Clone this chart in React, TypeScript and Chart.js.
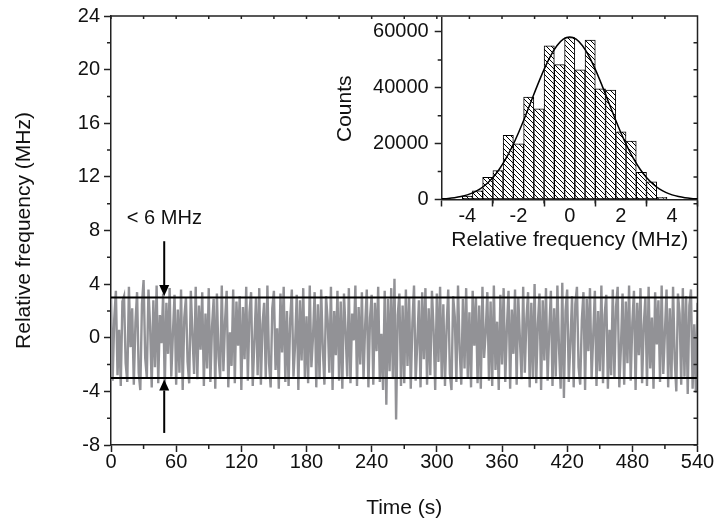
import React, { useEffect, useRef } from 'react';
import { Chart, registerables } from 'chart.js';

Chart.register(...registerables);

const FONT = "'Liberation Sans', Arial, Helvetica, sans-serif";
const AXIS_COLOR = '#222';
const TEXT_COLOR = '#111';
const TRACE_COLOR = '#929296';

// ---- main time trace ----
const SAMPLE_INTERVAL_S = 1.5;
const freqMHz: number[] = [
  2.9, -3.2, 1.4, 3.5, -2.8, 0.6, -3.6, 2.7, 3.1, -1.9, -3.3, 3.8, -0.7, 2.2, -3.5, 1.1, 3.4, -2.6, -3.9, 2.5,
  4.3, -1.5, -3.0, 3.6, 0.9, -3.7, 2.8, -2.2, 3.9, -3.4, 1.7, -0.4, 3.3, -3.8, 2.6, -1.2, 3.7, -2.9, 0.3, 3.2,
  -3.5, 2.1, -2.6, 3.6, -3.9, 1.5, 3.0, -1.8, -3.4, 3.5, 0.2, -2.7, 3.8, -3.1, 2.4, -0.9, 3.4, -3.6, 1.8, -2.3,
  3.7, -3.3, 0.8, 2.9, -3.8, 3.3, -1.4, -3.0, 3.9, -2.5, 1.2, 3.5, -3.7, 0.4, -2.1, 3.6, -3.4, 2.7, -0.6, 3.1,
  -3.9, 2.3, -1.6, 3.8, -3.2, 1.9, 3.4, -3.6, -0.3, 3.0, -2.8, 3.7, -3.5, 1.0, 2.6, -3.1, 3.9, -1.9, -3.7, 2.2,
  3.5, -2.4, 0.7, -3.8, 3.3, -1.1, 3.8, -3.3, 2.0, -3.6, 1.4, 3.6, -2.9, -0.5, 3.2, -3.9, 2.8, -1.7, 3.7, -3.0,
  1.6, -3.4, 3.9, -2.2, 0.1, 3.4, -3.7, 2.5, -3.1, 3.6, -0.8, -3.5, 3.1, 1.3, -2.6, 3.8, -3.9, 2.0, -1.3, 3.5,
  -3.2, 2.7, -3.8, 3.3, 0.5, -2.9, 3.7, -3.4, 1.8, -0.2, 3.9, -3.6, 2.3, -2.0, 3.4, -3.1, 0.9, 3.6, -3.7, 1.5,
  3.2, -3.5, 2.6, -1.0, 3.8, -3.3, 0.3, -3.9, 3.5, -5.0, 2.9, -2.5, 3.7, -3.0, 4.4, -6.1, 1.7, 3.3, -3.6, 2.4,
  -3.4, 3.6, -2.1, 3.0, -3.8, 1.1, 3.9, -3.2, -0.4, 2.8, -3.7, 3.4, -1.6, 3.7, -3.5, 2.2, -2.8, 3.5, 0.6, -3.9,
  3.3, -1.8, 3.8, -3.1, 2.5, -3.6, 0.8, 3.6, -2.7, -3.9, 3.1, 1.6, -3.3, 3.9, -0.9, -3.5, 2.9, -2.3, 3.7, -3.0,
  1.9, -3.7, 3.5, -0.6, 3.0, -3.4, 2.4, -3.8, 3.8, -1.5, 0.4, 3.4, -3.2, 2.7, -3.6, 3.9, -2.4, 1.2, -3.9, 3.2,
  -2.0, 3.7, -3.3, 0.7, 3.5, -3.8, 2.1, -1.2, 3.6, -3.5, 3.0, -0.1, -3.1, 3.8, -2.6, 1.4, 3.4, -3.7, 2.6, -3.0,
  4.0, -3.4, 1.0, 3.3, -3.9, 2.8, -1.7, 3.7, -3.2, 0.5, 3.5, -3.6, 2.2, -2.9, 3.9, -0.8, -3.8, 4.1, -4.5, 2.0,
  3.6, -3.3, -0.3, 3.1, -3.7, 2.5, 3.8, -2.2, -3.5, 1.3, 3.4, -3.9, 2.9, -1.0, 3.7, -3.1, 0.2, 3.5, -3.6, 2.0,
  -2.5, 3.9, -3.4, 1.7, 3.2, -3.8, 0.6, -2.8, 3.6, -3.0, 2.3, 3.8, -3.7, -0.7, 3.3, -3.5, 2.7, -1.9, 3.9, -3.2,
  1.1, 3.5, -3.9, 2.6, -1.3, 3.7, -3.4, 0.9, 3.0, -3.6, 3.8, -2.3, 1.5, -3.8, 3.4, -0.5, 2.8, -3.3, 3.9, -2.7,
  0.4, 3.6, -3.7, 2.2, -3.1, 3.8, -1.6, -4.0, 3.3, 1.8, -3.5, 3.7, -2.9, 3.1, -4.2, 2.4, 3.6, -3.8, 1.0, -4.1,
  2.6,
];
const THRESHOLDS_MHZ = [3, -3];
const TIME_RANGE = [0, 540];
const FREQ_RANGE = [-8, 24];
const TIME_TICKS = [0, 60, 120, 180, 240, 300, 360, 420, 480, 540];
const TIME_MINOR = [30, 90, 150, 210, 270, 330, 390, 450, 510];
const FREQ_TICKS = [-8, -4, 0, 4, 8, 12, 16, 20, 24];
const FREQ_MINOR = [-6, -2, 2, 6, 10, 14, 18, 22];
const ARROW_TIME_S = 49;
const ARROW_DOWN = [7.2, 3];
const ARROW_UP = [-7.1, -3];
const ANNOTATION_TEXT = '< 6 MHz';
const ANNOTATION_POS = [14.6, 8.45];

// ---- inset histogram ----
const histCenters = [-4.0, -3.6, -3.2, -2.8, -2.4, -2.0, -1.6, -1.2, -0.8, -0.4, 0.0, 0.4, 0.8, 1.2, 1.6, 2.0, 2.4, 2.8, 3.2, 3.6];
const histCounts = [1200, 3100, 7900, 10400, 23000, 19900, 36700, 32500, 55000, 48300, 58000, 46400, 57100, 39600, 39200, 24200, 20900, 9700, 6300, 800];
const fitX = [-5, -4.75, -4.5, -4.25, -4, -3.75, -3.5, -3.25, -3, -2.75, -2.5, -2.25, -2, -1.75, -1.5, -1.25, -1, -0.75, -0.5, -0.25, 0,
  0.25, 0.5, 0.75, 1, 1.25, 1.5, 1.75, 2, 2.25, 2.5, 2.75, 3, 3.25, 3.5, 3.75, 4, 4.25, 4.5, 4.75, 5];
const fitY = [225, 386, 646, 1050, 1660, 2560, 3830, 5570, 7880, 10840, 14520, 18900, 23930, 29470, 35300, 41130, 46600, 51360, 55050, 57400, 58200,
  57400, 55050, 51360, 46600, 41130, 35300, 29470, 23930, 18900, 14520, 10840, 7880, 5570, 3830, 2560, 1660, 1050, 646, 386, 225];
const HIST_X_RANGE = [-5, 5];
const HIST_Y_RANGE = [0, 65000];
const HIST_X_TICKS = [-4, -2, 0, 2, 4];
const HIST_X_MINOR = [-3, -1, 1, 3];
const HIST_Y_TICKS = [0, 20000, 40000, 60000];
const HIST_Y_MINOR = [10000, 30000, 50000];

const tickFont = { family: FONT, size: 20 };
const titleFont = { family: FONT, size: 21 };

function axisCommon(ticks: number[]) {
  return {
    type: 'linear' as const,
    afterBuildTicks: (s: any) => { s.ticks = ticks.map((v) => ({ value: v })); },
    grid: { drawOnChartArea: false, drawTicks: true, tickLength: 7, tickColor: AXIS_COLOR, tickWidth: 1.5 },
    border: { display: true, color: AXIS_COLOR, width: 1.5 },
  };
}

function drawArrow(ctx: CanvasRenderingContext2D, x: number, y0: number, y1: number) {
  const dir = Math.sign(y1 - y0);
  const head = 11;
  const hw = 5;
  ctx.lineWidth = 2;
  ctx.strokeStyle = '#000';
  ctx.fillStyle = '#000';
  ctx.beginPath();
  ctx.moveTo(x, y0);
  ctx.lineTo(x, y1 - dir * head);
  ctx.stroke();
  ctx.beginPath();
  ctx.moveTo(x, y1);
  ctx.lineTo(x - hw, y1 - dir * head);
  ctx.lineTo(x + hw, y1 - dir * head);
  ctx.closePath();
  ctx.fill();
}

const mainDecor = {
  id: 'mainDecor',
  afterDraw(chart: any) {
    const { ctx, chartArea: a, scales } = chart;
    const x = scales.x;
    const y = scales.y;
    ctx.save();
    ctx.strokeStyle = AXIS_COLOR;
    ctx.lineWidth = 1.5;
    ctx.beginPath();
    ctx.moveTo(a.left, a.top);
    ctx.lineTo(a.right, a.top);
    ctx.lineTo(a.right, a.bottom);
    FREQ_MINOR.forEach((v) => {
      const p = y.getPixelForValue(v);
      ctx.moveTo(a.left - 4, p);
      ctx.lineTo(a.left, p);
    });
    TIME_MINOR.forEach((v) => {
      const p = x.getPixelForValue(v);
      ctx.moveTo(p, a.bottom);
      ctx.lineTo(p, a.bottom + 4);
    });
    [...FREQ_TICKS, ...FREQ_MINOR].forEach((v) => {
      const p = y.getPixelForValue(v);
      ctx.moveTo(a.right - 4, p);
      ctx.lineTo(a.right, p);
    });
    [...TIME_TICKS, ...TIME_MINOR].forEach((v) => {
      const p = x.getPixelForValue(v);
      ctx.moveTo(p, a.top);
      ctx.lineTo(p, a.top + 3);
    });
    ctx.stroke();

    const ax = x.getPixelForValue(ARROW_TIME_S);
    drawArrow(ctx, ax, y.getPixelForValue(ARROW_DOWN[0]), y.getPixelForValue(ARROW_DOWN[1]) - 1.5);
    drawArrow(ctx, ax, y.getPixelForValue(ARROW_UP[0]), y.getPixelForValue(ARROW_UP[1]) + 1.5);

    ctx.fillStyle = TEXT_COLOR;
    ctx.font = `20px ${FONT}`;
    ctx.textAlign = 'left';
    ctx.textBaseline = 'alphabetic';
    ctx.fillText(ANNOTATION_TEXT, x.getPixelForValue(ANNOTATION_POS[0]), y.getPixelForValue(ANNOTATION_POS[1]));
    ctx.restore();
  },
};

const insetDecor = {
  id: 'insetDecor',
  afterDraw(chart: any) {
    const { ctx, chartArea: a, scales } = chart;
    const x = scales.x;
    const y = scales.y;
    ctx.save();
    ctx.strokeStyle = AXIS_COLOR;
    ctx.lineWidth = 1.5;
    ctx.beginPath();
    HIST_Y_MINOR.forEach((v) => {
      const p = y.getPixelForValue(v);
      ctx.moveTo(a.left - 4, p);
      ctx.lineTo(a.left, p);
    });
    HIST_X_MINOR.forEach((v) => {
      const p = x.getPixelForValue(v);
      ctx.moveTo(p, a.bottom);
      ctx.lineTo(p, a.bottom + 4);
    });
    ctx.stroke();
    ctx.restore();
  },
};

function makeHatch(): CanvasPattern | string {
  const c = document.createElement('canvas');
  c.width = 5;
  c.height = 5;
  const g = c.getContext('2d');
  if (!g) return '#fff';
  g.fillStyle = '#fff';
  g.fillRect(0, 0, 5, 5);
  g.strokeStyle = '#000';
  g.lineWidth = 1;
  g.beginPath();
  g.moveTo(0, 0);
  g.lineTo(5, 5);
  g.moveTo(-1, 4);
  g.lineTo(1, 6);
  g.moveTo(4, -1);
  g.lineTo(6, 1);
  g.stroke();
  const p = g.createPattern(c, 'repeat');
  return p || '#fff';
}

export default function App() {
  const mainRef = useRef<HTMLCanvasElement>(null);
  const insetRef = useRef<HTMLCanvasElement>(null);

  useEffect(() => {
    if (!mainRef.current || !insetRef.current) return;

    const trace = freqMHz.map((f, i) => ({ x: i * SAMPLE_INTERVAL_S, y: f }));
    const thresholdSets = THRESHOLDS_MHZ.map((t) => ({
      type: 'line' as const,
      data: [{ x: TIME_RANGE[0], y: t }, { x: TIME_RANGE[1], y: t }],
      borderColor: '#000',
      borderWidth: 2,
      pointRadius: 0,
      order: 0,
    }));

    const main = new Chart(mainRef.current, {
      type: 'line',
      data: {
        datasets: [
          ...thresholdSets,
          { type: 'line', data: trace, borderColor: TRACE_COLOR, borderWidth: 2.4, pointRadius: 0, tension: 0, order: 1 },
        ] as any,
      },
      options: {
        responsive: false,
        animation: false,
        devicePixelRatio: 1,
        layout: { padding: { left: 0, right: 18.5, top: 13, bottom: 0 } },
        plugins: { legend: { display: false }, tooltip: { enabled: false } },
        scales: {
          x: {
            ...axisCommon(TIME_TICKS),
            min: TIME_RANGE[0],
            max: TIME_RANGE[1],
            afterFit: (s: any) => { s.height = 79; },
            ticks: { font: tickFont, color: TEXT_COLOR, padding: -2, maxRotation: 0, autoSkip: false },
            title: { display: true, text: 'Time (s)', font: titleFont, color: TEXT_COLOR, padding: { top: 0, bottom: 3 } },
          },
          y: {
            ...axisCommon(FREQ_TICKS),
            min: FREQ_RANGE[0],
            max: FREQ_RANGE[1],
            afterFit: (s: any) => { s.width = 111; },
            ticks: { font: tickFont, color: TEXT_COLOR, padding: 4, autoSkip: false },
            title: { display: true, text: 'Relative frequency (MHz)', font: titleFont, color: TEXT_COLOR, padding: { top: 12, bottom: 0 } },
          },
        } as any,
      },
      plugins: [mainDecor],
    });

    const inset = new Chart(insetRef.current, {
      type: 'bar',
      data: {
        datasets: [
          {
            type: 'line',
            data: fitX.map((v, i) => ({ x: v, y: fitY[i] })),
            borderColor: '#000',
            borderWidth: 1.5,
            pointRadius: 0,
            tension: 0.3,
            order: 0,
          },
          {
            type: 'bar',
            data: histCenters.map((c, i) => ({ x: c, y: histCounts[i] })),
            backgroundColor: makeHatch() as any,
            borderColor: '#000',
            borderWidth: 1,
            borderSkipped: false,
            barPercentage: 1,
            categoryPercentage: 1,
            order: 1,
          },
        ] as any,
      },
      options: {
        responsive: false,
        animation: false,
        devicePixelRatio: 1,
        layout: { padding: { left: 330, right: 18.3, top: 13, bottom: 268.5 } },
        plugins: { legend: { display: false }, tooltip: { enabled: false } },
        scales: {
          x: {
            ...axisCommon(HIST_X_TICKS),
            min: HIST_X_RANGE[0],
            max: HIST_X_RANGE[1],
            offset: false,
            afterFit: (s: any) => { s.height = 56; },
            ticks: { font: tickFont, color: TEXT_COLOR, padding: -2, maxRotation: 0, autoSkip: false },
            title: { display: true, text: 'Relative frequency (MHz)', font: titleFont, color: TEXT_COLOR, padding: { top: 0, bottom: 3 } },
          },
          y: {
            ...axisCommon(HIST_Y_TICKS),
            min: HIST_Y_RANGE[0],
            max: HIST_Y_RANGE[1],
            afterFit: (s: any) => { s.width = 111.7; },
            ticks: { font: tickFont, color: TEXT_COLOR, padding: 6, autoSkip: false, callback: (v: any) => String(v) },
            title: { display: true, text: 'Counts', font: titleFont, color: TEXT_COLOR, padding: { top: 2.4, bottom: 0 } },
          },
        } as any,
      },
      plugins: [insetDecor],
    });

    return () => {
      main.destroy();
      inset.destroy();
    };
  }, []);

  return (
    <div style={{ position: 'fixed', left: 0, top: 0, width: 716, height: 524, background: '#fff' }}>
      <canvas ref={mainRef} width={716} height={524} style={{ position: 'absolute', left: 0, top: 0 }} />
      <canvas ref={insetRef} width={716} height={524} style={{ position: 'absolute', left: 0, top: 0 }} />
    </div>
  );
}
